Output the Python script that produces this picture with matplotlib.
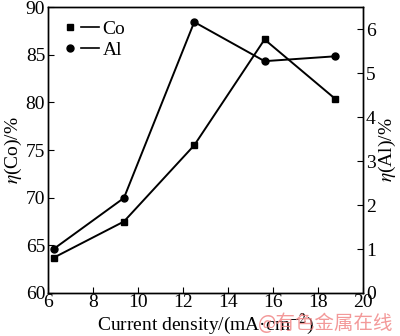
import matplotlib.pyplot as plt
from matplotlib.lines import Line2D
from matplotlib.legend_handler import HandlerTuple

x = [6.25, 9.375, 12.5, 15.625, 18.75]  # current density, mA/cm2
co = [63.7, 67.5, 75.5, 86.6, 80.4]      # eta(Co) %
al = [1.0, 2.16, 6.16, 5.27, 5.38]       # eta(Al) %

plt.rcParams['font.family'] = 'serif'
plt.rcParams['font.serif'] = ['Liberation Serif', 'DejaVu Serif']
plt.rcParams['mathtext.fontset'] = 'stix'

fig = plt.figure(figsize=(4, 3.36), dpi=100)
ax = fig.add_axes([0.12, 0.128, 0.7875, 0.851])
ax2 = ax.twinx()

ax.plot(x, co, 'k-', marker='s', ms=5, lw=1.4)
ax2.plot(x, al, 'k-', marker='o', ms=5, lw=1.4)

ax.set_xlim(6, 20)
ax.set_ylim(60, 90)
ax2.set_ylim(0, 6.5)
ax.set_xticks(range(6, 21, 2))
ax.set_yticks(range(60, 91, 5))
ax2.set_yticks(range(0, 7))

for a in (ax, ax2):
    a.tick_params(direction='in', labelsize=14, length=4, pad=2)
    for s in a.spines.values():
        s.set_linewidth(1.0)
ax.tick_params(axis='x', top=False, pad=1)

ax.set_xlabel('Current density/(mA·cm$^{-2}$)', fontsize=14, labelpad=0)
ax.set_ylabel('$\\eta$(Co)/%', fontsize=14, labelpad=1)
ax2.set_ylabel('$\\eta$(Al)/%', fontsize=14, labelpad=1)

# legend: marker followed by a short line
h_co = (Line2D([], [], color='k', marker='s', ms=5, ls='none'), Line2D([], [], color='k', lw=1.2))
h_al = (Line2D([], [], color='k', marker='o', ms=5, ls='none'), Line2D([], [], color='k', lw=1.2))
ax.legend([h_co, h_al], ['Co', 'Al'], loc='upper left', frameon=False, fontsize=14,
          handler_map={tuple: HandlerTuple(ndivide=None, pad=0.1)},
          handlelength=1.9, handletextpad=0.2, borderaxespad=0.3, labelspacing=0.15)

fig.text(0.645, 0.02, '@有色金属在线', color='#f08080', fontsize=14, alpha=0.8,
         family=['Noto Sans CJK SC', 'DejaVu Sans'])

fig.savefig('out.png', dpi=100)
